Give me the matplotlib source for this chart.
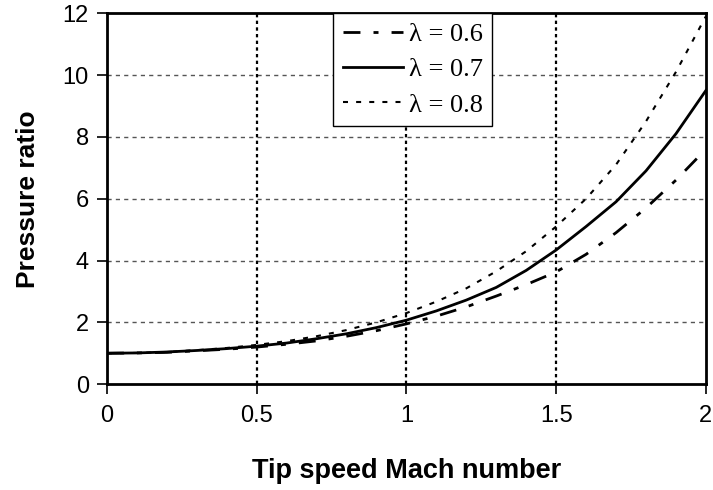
import matplotlib
matplotlib.use("Agg")
import matplotlib.pyplot as plt

mach = [0.0, 0.1, 0.2, 0.3, 0.4, 0.5, 0.6, 0.7, 0.8, 0.9, 1.0,
        1.1, 1.2, 1.3, 1.4, 1.5, 1.6, 1.7, 1.8, 1.9, 2.0]
pr_06 = [1.00, 1.01, 1.03, 1.08, 1.13, 1.20, 1.29, 1.40, 1.55, 1.73, 1.95,
         2.20, 2.50, 2.85, 3.22, 3.63, 4.20, 4.90, 5.70, 6.60, 7.60]
pr_07 = [1.00, 1.01, 1.04, 1.09, 1.15, 1.23, 1.33, 1.47, 1.63, 1.83, 2.07,
         2.37, 2.72, 3.13, 3.68, 4.34, 5.10, 5.90, 6.90, 8.10, 9.50]
pr_08 = [1.00, 1.01, 1.04, 1.10, 1.17, 1.27, 1.39, 1.55, 1.75, 2.00, 2.30,
         2.67, 3.10, 3.65, 4.30, 5.10, 6.00, 7.10, 8.50, 10.10, 11.90]
labels = ["λ = 0.6", "λ = 0.7", "λ = 0.8"]
xticks = [0, 0.5, 1, 1.5, 2]
xticklabels = ["0", "0.5", "1", "1.5", "2"]
yticks = [0, 2, 4, 6, 8, 10, 12]

plt.rcParams['font.family'] = ['Liberation Sans', 'DejaVu Sans']

fig = plt.figure(figsize=(7.13, 4.90), dpi=100)
ax = fig.add_axes([0.150, 0.216, 0.840, 0.757])

# grid
for yv in yticks[1:-1]:
    ax.axhline(yv, color='#555555', lw=1.0, ls=(0, (3, 3)), zorder=1)
for xv in xticks[1:-1]:
    ax.axvline(xv, color='black', lw=1.6, ls=(0, (1.5, 1.5)), zorder=1)

ax.plot(mach, pr_06, color='black', lw=2.0, ls=(0, (6.1, 4.7, 1.8, 4.7)), label=labels[0], zorder=3)
ax.plot(mach, pr_07, color='black', lw=2.0, ls='-', label=labels[1], zorder=3)
ax.plot(mach, pr_08, color='black', lw=1.5, ls=(0, (2.4, 3.9)), label=labels[2], zorder=3)

ax.set_xlim(0, 2)
ax.set_ylim(0, 12)
ax.set_xticks(xticks)
ax.set_xticklabels(xticklabels)
ax.set_yticks(yticks)
ax.tick_params(axis='both', direction='out', length=7, width=1.2, labelsize=17, pad=6, colors='black')
ax.tick_params(axis='x', pad=8)
for s in ax.spines.values():
    s.set_linewidth(2.0)
    s.set_color('black')

ax.set_xlabel("Tip speed Mach number", fontsize=19.5, fontweight='bold', labelpad=22)
ax.set_ylabel("Pressure ratio", fontsize=19, fontweight='bold', labelpad=16)

leg = ax.legend(loc='upper left', bbox_to_anchor=(0.378, 1.0), frameon=True, fancybox=False,
                framealpha=1, edgecolor='black', handlelength=2.3, handletextpad=0.2,
                borderpad=0.35, labelspacing=0.45, borderaxespad=0,
                prop={'family': 'Liberation Serif', 'size': 19})
leg.get_frame().set_linewidth(1.0)

fig.savefig("out.png", dpi=100)
